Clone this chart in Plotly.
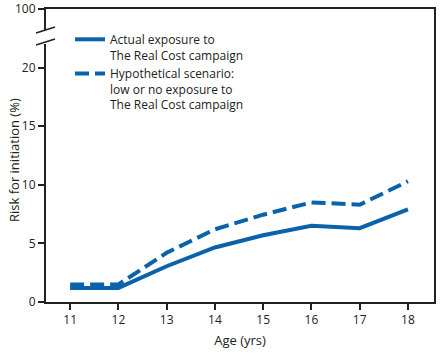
import plotly.graph_objects as go

ages = [11, 12, 13, 14, 15, 16, 17, 18]
actual = [1.2, 1.2, 3.05, 4.65, 5.7, 6.5, 6.3, 7.9]
hypothetical = [1.5, 1.5, 4.2, 6.2, 7.45, 8.5, 8.3, 10.3]
y_tickvals = [0, 5, 10, 15, 20, 25]
y_ticktext = ["0", "5", "10", "15", "20", "100"]
x_ticks = ages

color = "#0a62aa"
font = "Open Sans"

fig = go.Figure()
fig.add_trace(go.Scatter(x=ages, y=actual, mode="lines",
                         line=dict(color=color, width=4),
                         name="Actual exposure to<br>The Real Cost campaign"))
fig.add_trace(go.Scatter(x=ages, y=hypothetical, mode="lines",
                         line=dict(color=color, width=4, dash="14px,6px"),
                         name="Hypothetical scenario:<br>low or no exposure to<br>The Real Cost campaign"))

L, R, T, B = 46, 10, 9, 52
W, H = 444, 354
pw = W - L - R
ph = H - T - B

def py(p):
    return (H - B - p) / ph

def px(p):
    return (p - L) / pw

shapes = [
    dict(type="rect", xref="paper", yref="paper", x0=px(43), x1=px(49), y0=py(44), y1=py(30),
         fillcolor="white", line=dict(width=0), layer="above"),
    dict(type="line", xref="paper", yref="paper", x0=px(36), x1=px(55), y0=py(33), y1=py(27),
         line=dict(color="#222", width=1.5), layer="above"),
    dict(type="line", xref="paper", yref="paper", x0=px(36), x1=px(55), y0=py(45), y1=py(39),
         line=dict(color="#222", width=1.5), layer="above"),
]

annotations = [
    dict(text="Risk for initiation (%)", xref="paper", yref="paper", x=px(14), y=py(160),
         xanchor="center", yanchor="middle", textangle=-90, showarrow=False,
         font=dict(family=font, size=13, color="#222")),
]

fig.update_layout(
    width=W, height=H,
    margin=dict(l=L, r=R, t=T, b=B, autoexpand=False),
    paper_bgcolor="white", plot_bgcolor="white",
    font=dict(family=font, size=12, color="#222"),
    showlegend=True,
    legend=dict(x=px(70), y=py(25), xanchor="left", yanchor="top",
                bgcolor="rgba(0,0,0,0)", valign="top", tracegroupgap=3,
                font=dict(family=font, size=12, color="#222")),
    shapes=shapes,
    annotations=annotations,
    xaxis=dict(range=[10.5, 18.54], tickvals=x_ticks, ticks="outside", ticklen=6,
               tickwidth=1.5, tickcolor="#222", showline=True, linecolor="#222",
               linewidth=2, mirror=True, showgrid=False, zeroline=False, automargin=False,
               title=dict(text="Age (yrs)", font=dict(size=13), standoff=8)),
    yaxis=dict(range=[0, 25], tickvals=y_tickvals, ticktext=y_ticktext, ticks="outside",
               ticklen=6, tickwidth=1.5, tickcolor="#222", showline=True, linecolor="#222",
               linewidth=2, mirror=True, showgrid=False, zeroline=False, automargin=False),
)

fig.write_html("out.html")
